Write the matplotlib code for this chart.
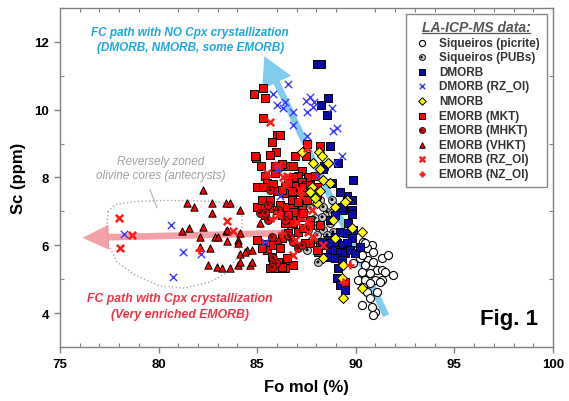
import matplotlib
matplotlib.use('Agg')
import matplotlib.pyplot as plt
from matplotlib.lines import Line2D
from matplotlib.patches import FancyArrowPatch

plt.rcParams['font.family'] = ['Liberation Sans', 'DejaVu Sans']

# ---- data (Fo mol %, Sc ppm) ----
picrite_fo = [90.37, 90.82, 90.06, 90.57, 90.87, 91.33, 91.63, 90.21, 90.62, 90.87, 90.47, 91.08,
              91.33, 90.31, 90.72, 90.11, 90.47, 90.97, 91.33, 91.89, 90.72, 90.37, 90.57, 90.72,
              90.31, 90.97, 90.87, 91.48, 91.23, 91.08, 90.82, 89.86, 90.47, 90.31]
picrite_sc = [6.10, 6.01, 5.87, 5.93, 5.81, 5.63, 5.72, 5.63, 5.57, 5.51, 5.42, 5.27,
              5.27, 5.21, 5.19, 4.98, 4.98, 4.98, 4.98, 5.13, 4.89, 4.77, 4.62, 4.44,
              4.24, 4.03, 3.94, 5.21, 4.92, 4.62, 4.18, 5.48, 6.07, 5.72]

pubs_fo = [88.03, 88.54, 88.34, 88.79, 87.93, 88.29, 88.69, 88.08, 88.34, 88.84, 88.03, 87.07,
           87.53, 88.08, 89.35, 88.54, 88.79, 88.18, 87.68, 87.58, 86.66, 87.17, 88.44, 87.78]
pubs_sc = [7.26, 6.99, 7.14, 6.96, 6.81, 6.84, 6.67, 6.55, 6.46, 6.40, 6.31, 6.40,
           5.87, 5.51, 6.37, 6.31, 7.35, 7.35, 7.11, 6.46, 6.61, 6.90, 6.01, 6.16]

dmorb_fo = [88.03, 88.24, 88.59, 88.24, 88.54, 88.69, 89.10, 88.39, 89.86, 89.55, 89.20, 89.35,
            89.81, 88.34, 88.79, 89.81, 89.81, 89.30, 88.95, 88.69, 89.60, 89.86, 89.20, 89.55,
            89.81, 88.95, 88.59, 88.29, 88.69, 89.05, 89.30, 89.55, 88.69, 88.95, 89.20, 89.45,
            89.71, 89.96, 88.54, 88.95, 89.30, 89.10, 89.05, 89.20, 89.45, 90.21]
dmorb_sc = [11.35, 11.35, 10.34, 10.13, 9.84, 8.92, 8.44, 8.33, 7.94, 7.44, 7.56, 7.05,
            7.05, 8.24, 7.85, 7.35, 6.93, 7.14, 6.90, 6.76, 6.67, 6.46, 6.40, 6.37,
            6.22, 6.25, 6.16, 6.10, 6.07, 6.07, 6.01, 6.07, 5.81, 5.87, 5.81, 5.78,
            5.87, 5.78, 5.66, 5.63, 5.57, 5.33, 5.04, 4.83, 4.68, 5.96]

dmorb_rz_fo = [86.56, 85.80, 86.00, 86.41, 86.31, 86.82, 86.82, 87.53, 87.47, 87.68, 87.88, 87.83,
               87.53, 88.79, 88.84, 89.05, 89.30, 88.84, 86.16, 86.00, 88.08, 80.63, 78.25, 81.24,
               82.15, 85.40, 86.05, 80.73]
dmorb_rz_sc = [10.76, 10.46, 10.13, 10.22, 10.04, 9.93, 9.54, 9.21, 10.25, 10.37, 10.22, 10.07,
               9.93, 10.04, 9.36, 9.45, 8.62, 8.44, 7.44, 8.24, 8.03, 6.61, 6.34, 5.81,
               5.75, 6.10, 8.27, 5.07]

nmorb_fo = [87.27, 88.13, 88.29, 87.83, 88.59, 88.18, 88.34, 88.69, 87.78, 88.18, 87.68, 89.55,
            88.95, 88.03, 87.93, 88.84, 89.81, 90.31, 88.95, 88.34, 89.35, 89.30, 90.31, 89.35, 89.45]
nmorb_sc = [8.74, 8.74, 8.62, 8.44, 8.44, 8.24, 7.94, 7.85, 7.73, 7.59, 7.56, 7.35,
            7.14, 7.26, 7.41, 6.76, 6.52, 6.40, 6.22, 5.63, 5.42, 5.04, 4.74, 4.44, 7.29]

mkt_fo = [85.29, 84.84, 85.40, 85.29, 86.00, 86.16, 85.75, 85.95, 85.65, 84.94, 85.19, 86.92,
          87.47, 86.31, 86.56, 86.82, 87.27, 85.40, 85.90, 87.07, 86.82, 85.50, 85.80, 87.58,
          84.99, 85.29, 86.41, 86.92, 87.27, 87.47, 87.93, 88.18, 86.46, 87.02, 87.58, 88.03,
          88.03, 84.99, 85.40, 85.65, 86.00, 85.40, 86.26, 84.99, 85.40, 85.50, 85.24, 85.80,
          85.75, 86.05, 85.65, 86.05, 86.51, 86.41, 86.26, 85.90, 86.00, 86.16, 86.51, 86.82,
          87.02, 87.27, 87.53, 86.82, 87.32, 87.68, 86.56, 86.26, 86.56, 87.07, 87.32, 86.92,
          87.17, 87.68, 88.18, 87.68, 86.16, 85.80, 86.82, 88.08, 89.45, 87.53, 85.24, 85.65,
          86.76, 87.07, 85.40, 86.82, 87.32, 86.56, 86.41, 86.82, 87.68, 88.18, 87.42, 88.03,
          86.51, 86.26, 84.89, 86.76, 86.26]
mkt_sc = [10.64, 10.46, 10.34, 9.75, 9.24, 9.24, 9.04, 8.74, 8.65, 8.56, 8.33, 8.62,
          8.62, 8.33, 8.33, 8.33, 8.18, 8.03, 8.12, 8.03, 8.00, 7.85, 7.82, 8.00,
          7.73, 7.73, 7.73, 7.76, 7.88, 7.79, 8.03, 8.92, 7.53, 7.56, 7.44, 7.50,
          7.73, 7.14, 7.20, 7.11, 7.05, 6.90, 6.90, 6.16, 6.04, 5.87, 5.93, 6.01,
          5.66, 5.51, 5.33, 5.33, 5.57, 5.33, 8.39, 8.33, 7.59, 7.20, 7.14, 7.20,
          6.99, 7.14, 7.35, 7.56, 7.73, 7.79, 7.85, 6.22, 6.37, 6.40, 6.52, 6.76,
          6.84, 6.76, 6.01, 6.07, 5.93, 5.48, 5.42, 5.81, 4.92, 8.98, 7.35, 7.35,
          7.35, 7.29, 7.11, 6.99, 6.96, 6.90, 6.67, 6.67, 6.61, 6.61, 6.07, 5.87,
          5.63, 5.36, 8.62, 7.59, 7.64]

mhkt_fo = [85.65, 85.14, 86.41, 85.55, 85.75, 85.80, 85.95, 85.75, 85.40, 86.05, 86.66, 86.82,
           87.07, 87.27, 86.56, 85.55]
mhkt_sc = [7.64, 6.96, 6.76, 6.76, 6.25, 5.63, 5.48, 5.36, 6.96, 7.05, 6.25, 6.10,
           5.93, 6.01, 6.31, 7.20]

vhkt_fo = [82.25, 81.44, 81.80, 82.71, 83.42, 83.62, 82.71, 84.13, 81.19, 81.54, 82.25, 83.42,
           82.10, 82.86, 83.01, 83.47, 84.03, 84.03, 82.61, 84.13, 84.48, 84.74, 82.51, 82.96,
           83.21, 84.03, 84.63, 85.14, 86.05, 84.38, 84.13, 84.74, 83.62, 82.10, 84.13, 83.47]
vhkt_sc = [7.64, 7.26, 7.14, 7.26, 7.26, 7.26, 6.96, 7.05, 6.43, 6.52, 6.55, 6.43,
           6.25, 6.25, 6.25, 6.13, 6.16, 6.07, 5.93, 5.75, 5.87, 5.87, 5.42, 5.36,
           5.33, 5.42, 5.42, 6.67, 6.16, 5.81, 5.51, 5.51, 5.33, 5.96, 6.37, 6.46]

emorb_rz_fo = [77.99, 78.65, 78.04, 83.47, 83.77, 85.50, 86.31, 86.05, 85.65, 87.53, 86.51, 87.22,
               87.17, 87.53, 87.02, 87.58, 86.92, 86.82, 88.34, 87.78, 86.05, 86.41, 87.83]
emorb_rz_sc = [6.81, 6.31, 5.93, 6.73, 6.43, 8.12, 8.00, 8.36, 9.63, 8.86, 8.03, 7.44,
               7.64, 6.70, 6.70, 6.40, 6.16, 5.72, 6.01, 7.05, 6.90, 7.79, 6.25]

nz_fo = [85.80, 82.05, 86.26, 89.71, 89.35]
nz_sc = [6.81, 5.87, 6.37, 5.42, 4.92]

# reversely zoned antecryst field outline
zone_fo = [77.43, 77.79, 78.80, 80.07, 81.59, 82.86, 83.87, 84.23, 84.23, 84.03, 83.52, 82.61,
           81.34, 80.07, 78.80, 77.89, 77.48, 77.38, 77.43]
zone_sc = [6.99, 7.20, 7.29, 7.32, 7.32, 7.29, 7.20, 6.90, 6.31, 5.72, 5.21, 4.92,
           4.74, 4.80, 5.13, 5.51, 6.01, 6.52, 6.99]

# FC trend arrows: (tail, head)
blue_arrow = [(91.6, 3.85), (85.3, 11.65)]
red_arrow = [(86.5, 6.36), (76.0, 6.22)]

fig = plt.figure(figsize=(5.69, 4.02), dpi=100)
ax = fig.add_axes([0.1054, 0.134, 0.8664, 0.844])

# trend arrows behind the points
ax.add_patch(FancyArrowPatch(blue_arrow[0], blue_arrow[1],
                             arrowstyle='simple,head_length=2.1,head_width=2.3,tail_width=0.48',
                             mutation_scale=10, color='#80CCEE', lw=0, zorder=1))
ax.add_patch(FancyArrowPatch(red_arrow[0], red_arrow[1],
                             arrowstyle='simple,head_length=1.9,head_width=1.8,tail_width=0.48',
                             mutation_scale=10, color='#F4A0A6', lw=0, zorder=1))

ax.plot(zone_fo, zone_sc, ':', color='#a8a8a8', lw=1.0, zorder=1)
ax.plot([79.56, 79.92], [7.64, 7.11], '-', color='#b0b0b0', lw=0.8, zorder=1)

ms = 26
h_pic = ax.scatter(picrite_fo, picrite_sc, s=34, marker='o', facecolor='white',
                   edgecolor='black', lw=0.8, zorder=3)
h_pub1 = ax.scatter(pubs_fo, pubs_sc, s=32, marker='o', facecolor='#d0d0d0',
                    edgecolor='#222222', lw=0.8, zorder=3)
h_pub2 = ax.scatter(pubs_fo, pubs_sc, s=5, marker='o', facecolor='black',
                    edgecolor='none', zorder=3)
h_dm = ax.scatter(dmorb_fo, dmorb_sc, s=ms, marker='s', facecolor='#0b0ba6',
                  edgecolor='black', lw=0.7, zorder=4)
h_dmx = ax.scatter(dmorb_rz_fo, dmorb_rz_sc, s=28, marker='x', color='#3a3aff',
                   lw=1.0, zorder=4)
h_nm = ax.scatter(nmorb_fo, nmorb_sc, s=26, marker='D', facecolor='#ffff00',
                  edgecolor='black', lw=0.7, zorder=4)
h_mkt = ax.scatter(mkt_fo, mkt_sc, s=ms, marker='s', facecolor='#ff0000',
                   edgecolor='black', lw=0.7, zorder=3)
h_mh1 = ax.scatter(mhkt_fo, mhkt_sc, s=32, marker='o', facecolor='#ff0000',
                   edgecolor='#222222', lw=0.8, zorder=3)
h_mh2 = ax.scatter(mhkt_fo, mhkt_sc, s=6, marker='o', facecolor='#550000',
                   edgecolor='none', zorder=3)
h_vh = ax.scatter(vhkt_fo, vhkt_sc, s=28, marker='^', facecolor='#ff0000',
                  edgecolor='black', lw=0.7, zorder=3)
h_ex = ax.scatter(emorb_rz_fo, emorb_rz_sc, s=28, marker='x', color='#ff1a1a',
                  lw=1.8, zorder=4)
h_nz = ax.scatter(nz_fo, nz_sc, s=30, marker='+', color='#ff1a1a', lw=1.8, zorder=4)

# annotations
ax.text(81.6, 12.30, 'FC path with NO Cpx crystallization', color='#1EA6E4', fontsize=8.5,
        fontweight='bold', style='italic', ha='center', va='center')
ax.text(81.6, 11.85, '(DMORB, NMORB, some EMORB)', color='#1EA6E4', fontsize=8.5,
        fontweight='bold', style='italic', ha='center', va='center')
ax.text(80.1, 8.50, 'Reversely zoned', color='#a0a0a0', fontsize=8.5, style='italic',
        ha='center', va='center')
ax.text(80.1, 8.08, 'olivine cores (antecrysts)', color='#a0a0a0', fontsize=8.5, style='italic',
        ha='center', va='center')
ax.text(81.1, 4.45, 'FC path with Cpx crystallization', color='#EE3344', fontsize=8.8,
        fontweight='bold', style='italic', ha='center', va='center')
ax.text(81.1, 3.97, '(Very enriched EMORB)', color='#EE3344', fontsize=8.8,
        fontweight='bold', style='italic', ha='center', va='center')
ax.text(99.25, 3.85, 'Fig. 1', color='black', fontsize=16, fontweight='bold',
        ha='right', va='center')

# axes
ax.set_xlim(75, 100)
ax.set_ylim(3, 13)
ax.set_xticks([75, 80, 85, 90, 95, 100])
ax.set_yticks([4, 6, 8, 10, 12])
ax.set_xticks(range(75, 101), minor=True)
ax.set_yticks(range(3, 14), minor=True)
ax.tick_params(which='major', direction='out', length=4, width=1, color='#808080',
               labelsize=9.5, pad=4)
ax.tick_params(which='minor', direction='in', length=3, width=0.8, color='#808080',
               top=True, right=True)
for lab in ax.get_xticklabels() + ax.get_yticklabels():
    lab.set_fontweight('bold')
for sp in ax.spines.values():
    sp.set_color('#808080')
    sp.set_linewidth(1)
ax.set_xlabel('Fo mol (%)', fontsize=12, fontweight='bold', labelpad=6)
ax.set_ylabel('Sc (ppm)', fontsize=12, fontweight='bold', labelpad=6)

handles = [h_pic, (h_pub1, h_pub2), h_dm, h_dmx, h_nm, h_mkt, (h_mh1, h_mh2), h_vh, h_ex, h_nz]
labels = ['Siqueiros (picrite)', 'Siqueiros (PUBs)', 'DMORB', 'DMORB (RZ_Ol)', 'NMORB',
          'EMORB (MKT)', 'EMORB (MHKT)', 'EMORB (VHKT)', 'EMORB (RZ_Ol)', 'EMORB (NZ_Ol)']
leg = ax.legend(handles, labels, loc='upper right', bbox_to_anchor=(0.987, 0.983),
                borderaxespad=0, fancybox=False, framealpha=1, edgecolor='#888888',
                prop=dict(size=8.5, weight='bold'), labelcolor='#333333', markerscale=0.75,
                labelspacing=0.22, handletextpad=0.7, handlelength=1.6, borderpad=0.55,
                title='LA-ICP-MS data:',
                title_fontproperties=dict(size=10, weight='bold', style='italic'))
leg.get_title().set_color('#555555')
leg.get_frame().set_linewidth(1)
leg.set_zorder(6)

# underline the legend title
fig.canvas.draw()
bb = leg.get_title().get_window_extent().transformed(fig.transFigure.inverted())
fig.add_artist(Line2D([bb.x0, bb.x1], [bb.y0 + 0.002, bb.y0 + 0.002], color='#555555',
                      lw=0.9, transform=fig.transFigure, zorder=7))

fig.savefig('out.png', dpi=100)
